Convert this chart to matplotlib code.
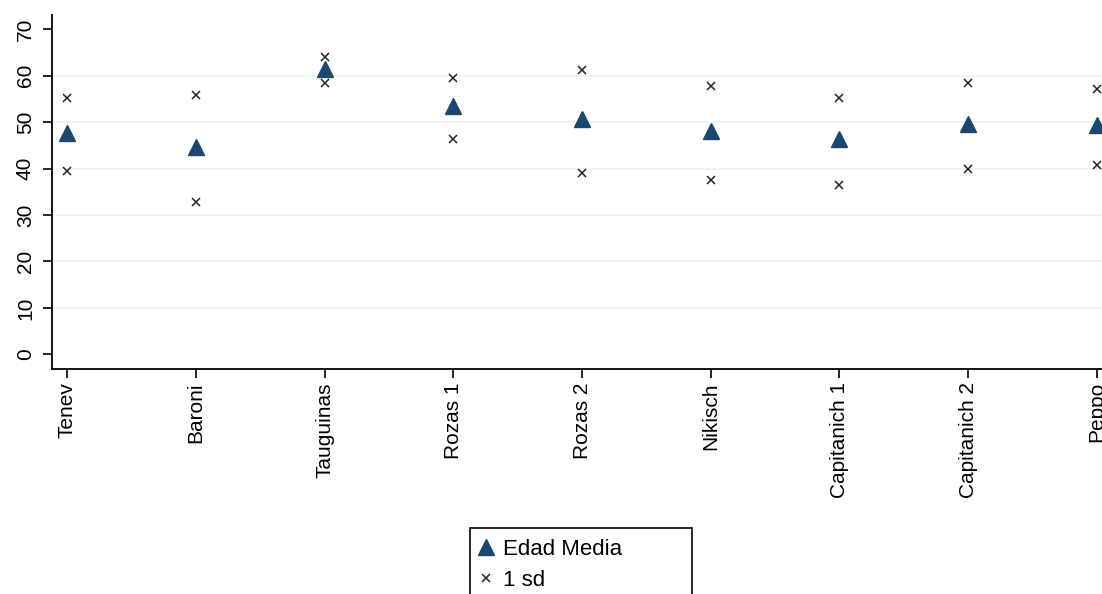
import matplotlib.pyplot as plt
from matplotlib.patches import Rectangle

# data
candidates = ["Tenev", "Baroni", "Tauguinas", "Rozas 1", "Rozas 2",
              "Nikisch", "Capitanich 1", "Capitanich 2", "Peppo"]
edad_media = [47.7, 44.7, 61.4, 53.4, 50.7, 48.2, 46.4, 49.5, 49.4]
sd_upper = [55.3, 55.9, 64.0, 59.5, 61.3, 57.8, 55.1, 58.5, 57.2]
sd_lower = [39.4, 32.8, 58.4, 46.4, 39.0, 37.6, 36.5, 39.9, 40.7]
yticks = [0, 10, 20, 30, 40, 50, 60, 70]

plt.rcParams['font.family'] = ['Liberation Sans', 'DejaVu Sans']

navy = '#1a476f'
W, H = 1102, 594
fig = plt.figure(figsize=(W / 100, H / 100), dpi=100)
ax = fig.add_axes([52.3 / W, 1 - 369 / H, 1 - 52.3 / W, (369 - 15) / H])

x = list(range(len(candidates)))
for v in yticks[1:-1]:
    ax.axhline(v, color='#eaf2f3', lw=1.2, zorder=0)

tri, = ax.plot(x, edad_media, linestyle='none', marker='^', markersize=12,
               color=navy, label='Edad Media', zorder=3)
sdm, = ax.plot(x, sd_upper, linestyle='none', marker='x', markersize=5.2,
               mew=1.1, color='#222222', label='1 sd', zorder=3)
ax.plot(x, sd_lower, linestyle='none', marker='x', markersize=5.2,
        mew=1.1, color='#222222', zorder=3)

ax.set_xlim(-0.1166, 8.04)
ax.set_ylim(-3.17, 73.08)
ax.set_yticks(yticks)
ax.set_yticklabels([str(v) for v in yticks], rotation=90, va='center', fontsize=15)
ax.set_xticks(x)
ax.set_xticklabels(candidates, rotation=90, fontsize=15)

for s in ['top', 'right']:
    ax.spines[s].set_visible(False)
for s in ['left', 'bottom']:
    ax.spines[s].set_linewidth(1.3)
ax.tick_params(axis='both', length=6.5, width=1.2, color='black')
ax.tick_params(axis='y', pad=6)
ax.tick_params(axis='x', pad=3)

# legend frame (cropped at the bottom like the reference)
fig.add_artist(Rectangle((470 / W, -0.2), 222 / W, 0.2 + 1 - 528 / H,
                         transform=fig.transFigure, facecolor='white',
                         edgecolor='black', lw=1.2, zorder=5))
leg = fig.legend(handles=[tri, sdm], loc='upper left',
                 bbox_to_anchor=(467 / W, 1 - 530 / H), frameon=False,
                 fontsize=16, handlelength=0.9, handletextpad=0.33,
                 labelspacing=0.45, borderaxespad=0)
leg.set_zorder(6)
leg.legend_handles[0].set_markersize(11)

fig.savefig('out.png', dpi=100)
